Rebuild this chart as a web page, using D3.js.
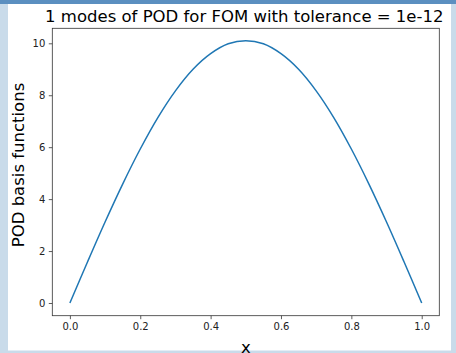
<!DOCTYPE html>
<html><head><meta charset="utf-8">
<script src="https://cdn.jsdelivr.net/npm/d3@7"></script>
<style>body{margin:0;background:#fff}svg{display:block}</style>
</head><body>
<script>
const xValues = [0,0.05,0.1,0.15,0.2,0.25,0.3,0.35,0.4,0.45,0.5,0.55,0.6,0.65,0.7,0.75,0.8,0.85,0.9,0.95,1.0];
const modeValues = [0,1.58,3.12,4.58,5.93,7.14,8.17,9.00,9.60,9.98,10.10,9.98,9.60,9.00,8.17,7.14,5.93,4.58,3.12,1.58,0];
const xTicks = [0.0,0.2,0.4,0.6,0.8,1.0];
const yTicks = [0,2,4,6,8,10];
const titleText = "1 modes of POD for FOM with tolerance = 1e-12";
const xLabel = "x";
const yLabel = "POD basis functions";

const W = 456, H = 353;
const svg = d3.select("body").append("svg").attr("width", W).attr("height", H);
// frame
svg.append("rect").attr("x",0).attr("y",0).attr("width",W).attr("height",H).attr("fill","#c9dbea");
svg.append("rect").attr("x",0).attr("y",0).attr("width",W).attr("height",4).attr("fill","#5b8fc0");
svg.append("rect").attr("x",8).attr("y",4).attr("width",443).attr("height",346.5).attr("fill","#fff");

const L = 52.3, R = 439.3, T = 28.3, B = 315.7;
const x = d3.scaleLinear().domain([-0.05,1.05]).range([L,R]);
// y(0)=303, y(10)=43.3
const yPer = (303-43.3)/10;
const y = d3.scaleLinear().domain([-(B-303)/yPer, (303-T)/yPer]).range([B,T]);

const font = "DejaVu Sans, sans-serif";
const gx = svg.append("g").attr("transform",`translate(0,${B})`)
  .call(d3.axisBottom(x).tickValues(xTicks).tickFormat(d3.format(".1f")).tickSizeOuter(0).tickSize(3.5).tickPadding(3.5));
const gy = svg.append("g").attr("transform",`translate(${L},0)`)
  .call(d3.axisLeft(y).tickValues(yTicks).tickFormat(d3.format("d")).tickSizeOuter(0).tickSize(3.5).tickPadding(3.5));
[gx,gy].forEach(g=>{
  g.select(".domain").remove();
  g.selectAll(".tick line").attr("stroke","#333").attr("stroke-width",0.8);
  g.selectAll(".tick text").attr("font-family",font).attr("font-size",10).attr("fill","#222");
});
svg.append("rect").attr("x",L).attr("y",T).attr("width",R-L).attr("height",B-T)
  .attr("fill","none").attr("stroke","#333").attr("stroke-width",0.8);

const line = d3.line().x((d,i)=>x(xValues[i])).y(d=>y(d)).curve(d3.curveCatmullRom);
svg.append("path").datum(modeValues).attr("d",line).attr("fill","none")
  .attr("stroke","#1f77b4").attr("stroke-width",1.5);

svg.append("text").attr("x",(L+R)/2-1.5).attr("y",22).attr("text-anchor","middle")
  .attr("font-family",font).attr("font-size",16.5).attr("fill","#000").text(titleText);
svg.append("text").attr("x",(L+R)/2).attr("y",353).attr("text-anchor","middle")
  .attr("font-family",font).attr("font-size",16.5).attr("fill","#000").text(xLabel);
svg.append("text").attr("transform",`translate(24,${(T+B)/2-7}) rotate(-90)`).attr("text-anchor","middle")
  .attr("font-family",font).attr("font-size",16.5).attr("fill","#000").text(yLabel);
</script>
</body></html>
